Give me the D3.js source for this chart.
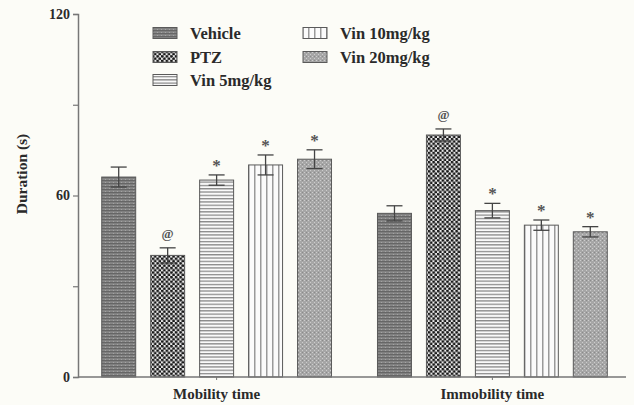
<!DOCTYPE html>
<html><head><meta charset="utf-8">
<script src="https://cdn.jsdelivr.net/npm/d3@7/dist/d3.min.js"></script>
<style>
html,body{margin:0;padding:0;background:#fcfcf7;}
svg{display:block;}
text{font-family:"Liberation Serif","Times New Roman",serif;font-weight:bold;fill:#2a2a2a;}
</style></head>
<body>
<script>
// ---- data ----
const groups = ["Mobility time", "Immobility time"];
const series = ["Vehicle", "PTZ", "Vin 5mg/kg", "Vin 10mg/kg", "Vin 20mg/kg"];
const mobilityMean = [66.1, 40.2, 65.1, 70.1, 72.0];
const mobilitySem  = [3.3, 2.5, 1.7, 3.3, 3.1];
const immobilityMean = [54.1, 80.0, 55.0, 50.2, 48.0];
const immobilitySem  = [2.5, 2.0, 2.4, 1.7, 1.7];
const marks = ["", "@", "*", "*", "*"];
const yTicks = [0, 30, 60, 90, 120];
const yTickLabels = ["0", "", "60", "", "120"];
const yLabel = "Duration (s)";

const means = [mobilityMean, immobilityMean];
const sems = [mobilitySem, immobilitySem];
const data = [];
groups.forEach((g, gi) => series.forEach((s, si) => data.push({g, s, si, v: means[gi][si], e: sems[gi][si], m: marks[si]})));

const W = 634, H = 405;
const svg = d3.select("body").append("svg").attr("width", W).attr("height", H);

// ---- patterns ----
const defs = svg.append("defs");
function pat(id, w, h) {
  return defs.append("pattern").attr("id", id).attr("patternUnits", "userSpaceOnUse").attr("width", w).attr("height", h);
}
// Vehicle: dark gray with horizontal texture
let p = pat("p0", 4, 3);
p.append("rect").attr("width", 4).attr("height", 3).attr("fill", "#878787");
p.append("rect").attr("width", 4).attr("height", 1.2).attr("fill", "#666");
p.append("rect").attr("x", 1).attr("y", 2).attr("width", 1).attr("height", 1).attr("fill", "#a4a4a4");
// PTZ: checker of dots
p = pat("p1", 4.6, 4.6);
p.append("rect").attr("width", 4.6).attr("height", 4.6).attr("fill", "#e8e8e8");
p.append("circle").attr("cx", 1.15).attr("cy", 1.15).attr("r", 1.45).attr("fill", "#161616");
p.append("circle").attr("cx", 3.45).attr("cy", 3.45).attr("r", 1.45).attr("fill", "#161616");
// Vin 5: horizontal lines
p = pat("p2", 4, 3.3);
p.append("rect").attr("width", 4).attr("height", 3.3).attr("fill", "#fafafa");
p.append("rect").attr("width", 4).attr("height", 1.3).attr("fill", "#8a8a8a");
// Vin 10: vertical lines
p = pat("p3", 6, 4);
p.append("rect").attr("width", 6).attr("height", 4).attr("fill", "#fbfbfb");
p.append("rect").attr("x", 2).attr("width", 1.5).attr("height", 4).attr("fill", "#9a9a9a");
// Vin 20: light gray stipple
p = pat("p4", 4, 4);
p.append("rect").attr("width", 4).attr("height", 4).attr("fill", "#a6a6a6");
p.append("rect").attr("x", 0).attr("y", 0).attr("width", 1).attr("height", 1).attr("fill", "#cdcdcd");
p.append("rect").attr("x", 2).attr("y", 2).attr("width", 1).attr("height", 1).attr("fill", "#cdcdcd");
p.append("rect").attr("x", 2).attr("y", 0).attr("width", 1).attr("height", 1).attr("fill", "#8a8a8a");

// ---- scales ----
const y = d3.scaleLinear().domain([0, 120]).range([377, 14]);
const x0 = d3.scaleBand().domain(groups).range([78, 631]).paddingInner(0.1667).paddingOuter(0.086);
const x1 = d3.scaleBand().domain(series).range([0, x0.bandwidth()]).paddingInner(0.306).paddingOuter(0);

// ---- bars ----
const bars = svg.append("g");
bars.selectAll("rect").data(data).join("rect")
  .attr("x", d => x0(d.g) + x1(d.s))
  .attr("y", d => y(d.v))
  .attr("width", x1.bandwidth())
  .attr("height", d => y(0) - y(d.v))
  .attr("fill", d => `url(#p${d.si})`)
  .attr("stroke", "#5a5a5a").attr("stroke-width", 1);

// ---- error bars ----
const eb = svg.append("g").attr("stroke", "#444").attr("stroke-width", 1.3);
const cap = 8;
data.forEach(d => {
  const cx = x0(d.g) + x1(d.s) + x1.bandwidth() / 2;
  eb.append("line").attr("x1", cx).attr("x2", cx).attr("y1", y(d.v - d.e)).attr("y2", y(d.v + d.e));
  eb.append("line").attr("x1", cx - cap).attr("x2", cx + cap).attr("y1", y(d.v + d.e)).attr("y2", y(d.v + d.e));
  eb.append("line").attr("x1", cx - cap).attr("x2", cx + cap).attr("y1", y(d.v - d.e)).attr("y2", y(d.v - d.e));
});

// ---- significance marks ----
svg.append("g").selectAll("text").data(data.filter(d => d.m)).join("text")
  .attr("x", d => x0(d.g) + x1(d.s) + x1.bandwidth() / 2)
  .attr("y", d => y(d.v + d.e) - (d.m === "@" ? 10 : 4))
  .attr("text-anchor", "middle")
  .style("font-size", d => d.m === "@" ? "13px" : "17px")
  .style("fill", "#555")
  .text(d => d.m);

// ---- axes ----
const yAxis = d3.axisLeft(y).tickValues(yTicks).tickSize(5).tickFormat((d, i) => yTickLabels[i]);
const gy = svg.append("g").attr("transform", "translate(78,0)").call(yAxis);
gy.select(".domain").attr("stroke", "#777").attr("stroke-width", 1.5);
gy.selectAll(".tick line").attr("stroke", "#777").attr("stroke-width", 1.2);
gy.selectAll(".tick text").style("font-size", "14px").style("font-family", "Liberation Serif").style("font-weight", "bold").attr("fill", "#444").attr("x", -8);

const xAxis = d3.axisBottom(x0).tickSize(3).tickSizeOuter(0);
const gx = svg.append("g").attr("transform", "translate(0,377)").call(xAxis);
gx.select(".domain").attr("stroke", "#777").attr("stroke-width", 1.5).attr("d", "M78,0H626");
gx.selectAll(".tick line").attr("stroke", "#777");
gx.selectAll(".tick text").style("font-size", "15px").style("font-family", "Liberation Serif").style("font-weight", "bold").attr("fill", "#2a2a2a").attr("y", 11);

// y label
svg.append("text").attr("transform", "translate(27,174) rotate(-90)")
  .attr("text-anchor", "middle").style("font-size", "15.5px").text(yLabel);

// ---- legend ----
const legPos = [[153, 33], [153, 57], [153, 80], [303, 33], [303, 57]];
const leg = svg.append("g");
series.forEach((s, i) => {
  const [lx, ly] = legPos[i];
  leg.append("rect").attr("x", lx).attr("y", ly - 5.5).attr("width", 24).attr("height", 11)
    .attr("fill", `url(#p${i})`).attr("stroke", "#5a5a5a").attr("stroke-width", 1);
  leg.append("text").attr("x", lx + 37).attr("y", ly + 5.5).style("font-size", "16.5px").text(s);
});
</script>
</body></html>
